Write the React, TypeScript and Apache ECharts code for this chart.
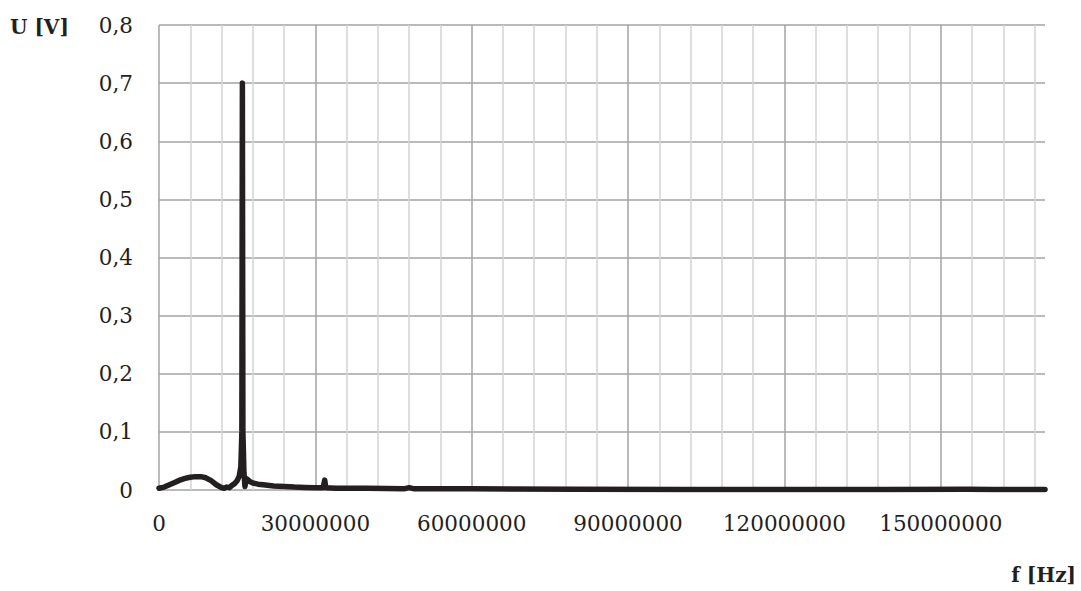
import React, { useEffect, useRef } from "react";
import * as echarts from "echarts";

// Frequency (MHz) and voltage (V)
const freqMHz = [
  0, 1, 2, 3, 4, 5, 6, 7, 8, 9, 10, 11, 12, 12.5, 13, 13.5, 14, 14.5, 15, 15.4,
  15.7, 15.9, 16.0, 16.1, 16.3, 16.5, 16.7, 17, 17.5, 18, 19, 20, 22, 24, 26, 28,
  30, 31.5, 31.8, 32.0, 34, 40, 47, 48, 49, 60, 80, 100, 120, 140, 155, 160, 170,
];
const volts = [
  0.003, 0.005, 0.009, 0.013, 0.017, 0.02, 0.022, 0.023, 0.023, 0.021, 0.016,
  0.009, 0.004, 0.003, 0.005, 0.004, 0.008, 0.011, 0.016, 0.024, 0.04, 0.1, 0.7,
  0.1, 0.03, 0.006, 0.02, 0.018, 0.014, 0.012, 0.01, 0.009, 0.007, 0.006, 0.005,
  0.0045, 0.004, 0.004, 0.017, 0.004, 0.003, 0.003, 0.002, 0.004, 0.002, 0.002,
  0.0015, 0.001, 0.001, 0.001, 0.0015, 0.001, 0.001,
];

const xMax = 170000000;
const xGridStep = 6000000;
const xLabelStep = 30000000;
const yMax = 0.8;
const yStep = 0.1;

export default function App() {
  const ref = useRef<HTMLDivElement>(null);
  useEffect(() => {
    if (!ref.current) return;
    const chart = echarts.init(ref.current, undefined, { renderer: "svg" });
    const data = freqMHz.map((f, i) => [Math.round(f * 1e6), volts[i]]);
    const font = "'DejaVu Serif', serif";
    chart.setOption({
      animation: false,
      backgroundColor: "#ffffff",
      grid: { left: 159, right: 36, top: 25, bottom: 101, containLabel: false },
      xAxis: {
        type: "value",
        min: 0,
        max: xMax,
        interval: xGridStep,
        axisLine: { show: false },
        axisTick: { show: false },
        axisLabel: {
          margin: 22,
          color: "#231f20",
          fontFamily: font,
          fontSize: 21.5,
          showMaxLabel: false,
          formatter: (v: number) => (v % xLabelStep === 0 ? String(v) : ""),
        },
        splitLine: {
          show: true,
          showMaxLine: false,
          lineStyle: {
            width: 1.5,
            color: ["#a3a3a3", "#d3d3d3", "#d3d3d3", "#d3d3d3", "#d3d3d3"],
          },
        },
      },
      yAxis: {
        type: "value",
        min: 0,
        max: yMax,
        interval: yStep,
        axisLine: { show: false },
        axisTick: { show: false },
        axisLabel: {
          margin: 26,
          color: "#231f20",
          fontFamily: font,
          fontSize: 21.5,
          formatter: (v: number) => (v === 0 ? "0" : v.toFixed(1).replace(".", ",")),
        },
        splitLine: { show: true, lineStyle: { width: 1.5, color: "#a3a3a3" } },
      },
      graphic: [
        {
          type: "text",
          left: 10,
          top: 17,
          style: {
            text: "U [V]",
            font: "bold 20px 'DejaVu Serif', serif",
            fill: "#231f20",
          },
        },
        {
          type: "text",
          right: 5,
          top: 565,
          style: {
            text: "f [Hz]",
            font: "bold 20px 'DejaVu Serif', serif",
            fill: "#231f20",
          },
        },
      ],
      series: [
        {
          type: "line",
          data,
          showSymbol: false,
          symbol: "none",
          lineStyle: { color: "#231f20", width: 5.5, join: "round", cap: "round" },
        },
      ],
    });
    return () => chart.dispose();
  }, []);
  return (
    <div
      ref={ref}
      style={{ position: "fixed", left: 0, top: 0, width: 1081, height: 591 }}
    />
  );
}
